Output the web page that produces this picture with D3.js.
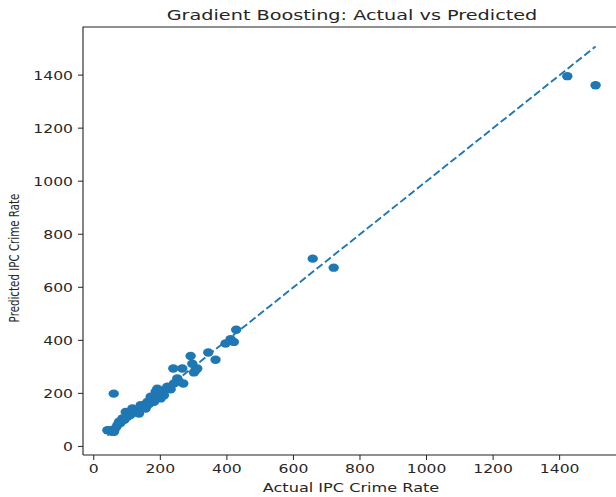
<!DOCTYPE html>
<html lang="en">
<head>
<meta charset="UTF-8">
<title>Gradient Boosting: Actual vs Predicted</title>
<script src="https://d3js.org/d3.v7.min.js"></script>
<style>
  body { margin: 0; background: #fff; }
  text { font-family: "DejaVu Sans", sans-serif; fill: #262626; }
</style>
</head>
<body>
<svg id="chart" width="616" height="497"></svg>
<script>
// actual vs predicted values
var actual = [41, 51, 55, 61, 66, 71, 76, 80, 86, 92, 96, 101, 106, 110, 116, 121, 126, 131, 136, 141,
              146, 151, 156, 161, 166, 171, 176, 181, 186, 191, 196, 201, 206, 211, 216, 221, 231, 241, 251, 256,
              269, 239, 266, 291, 296, 301, 306, 311, 344, 366, 396, 411, 421, 428, 60, 658, 721, 1423, 1508];
var predicted = [61, 61, 55, 55, 70, 80, 93, 88, 105, 100, 130, 112, 124, 118, 143, 135, 137, 128, 124, 155,
                 150, 155, 143, 168, 160, 187, 178, 168, 206, 218, 200, 181, 210, 193, 215, 225, 215, 237, 256, 245,
                 237, 294, 294, 341, 312, 279, 287, 294, 354, 327, 388, 404, 394, 440, 199, 708, 674, 1396, 1362];
var xTicks = [0, 200, 400, 600, 800, 1000, 1200, 1400];
var yTicks = [0, 200, 400, 600, 800, 1000, 1200, 1400];

var svg = d3.select("#chart");
var mLeft = 83, mTop = 27, mRight = 620, mBottom = 455;
var blue = "#1f77b4";

var lo = d3.min(actual.concat(predicted)), hi = d3.max(actual.concat(predicted));
var pad = (hi - lo) * 0.05;
var x = d3.scaleLinear().domain([lo - pad, hi + pad]).range([mLeft, mRight]);
var y = d3.scaleLinear().domain([lo - pad, hi + pad]).range([mBottom, mTop]);

var sx = 1.3; // the picture is stretched sideways

svg.append("g").selectAll("ellipse")
  .data(actual)
  .enter()
  .append("ellipse")
  .attr("cx", function(d) { return x(d); })
  .attr("cy", function(d, i) { return y(predicted[i]); })
  .attr("rx", 5.2)
  .attr("ry", 4.2)
  .style("fill", blue);

var amin = d3.min(actual), amax = d3.max(actual);
svg.append("line")
  .attr("x1", x(amin)).attr("y1", y(amin))
  .attr("x2", x(amax)).attr("y2", y(amax))
  .style("stroke", blue)
  .style("stroke-width", 1.9)
  .style("stroke-dasharray", "7.5,3.2");

// frame
svg.append("path")
  .attr("d", "M" + mLeft + "," + mBottom + "V" + mTop + "H" + mRight)
  .style("fill", "none").style("stroke", "#222").style("stroke-width", 1.1);
svg.append("line")
  .attr("x1", mLeft).attr("y1", mBottom).attr("x2", mRight).attr("y2", mBottom)
  .style("stroke", "#222").style("stroke-width", 1.1);

var xt = svg.append("g").selectAll("g").data(xTicks).enter().append("g")
  .attr("transform", function(d) { return "translate(" + x(d) + "," + mBottom + ")"; });
xt.append("line").attr("y2", 5).style("stroke", "#222");
xt.append("text")
  .attr("transform", "translate(0,18) scale(" + sx + ",1)")
  .attr("text-anchor", "middle")
  .style("font-size", "12px")
  .text(function(d) { return d; });

var yt = svg.append("g").selectAll("g").data(yTicks).enter().append("g")
  .attr("transform", function(d) { return "translate(" + mLeft + "," + y(d) + ")"; });
yt.append("line").attr("x2", -5).style("stroke", "#222");
yt.append("text")
  .attr("transform", "translate(-10,4.5) scale(" + sx + ",1)")
  .attr("text-anchor", "end")
  .style("font-size", "12px")
  .text(function(d) { return d; });

svg.append("text")
  .attr("transform", "translate(352,20) scale(" + sx + ",1)")
  .attr("text-anchor", "middle")
  .style("font-size", "14.8px")
  .text("Gradient Boosting: Actual vs Predicted");

svg.append("text")
  .attr("transform", "translate(351,492) scale(" + sx + ",1)")
  .attr("text-anchor", "middle")
  .style("font-size", "12.4px")
  .text("Actual IPC Crime Rate");

svg.append("text")
  .attr("transform", "translate(19,258) scale(" + sx + ",1) rotate(-90)")
  .attr("text-anchor", "middle")
  .style("font-size", "10.3px")
  .text("Predicted IPC Crime Rate");
</script>
</body>
</html>
